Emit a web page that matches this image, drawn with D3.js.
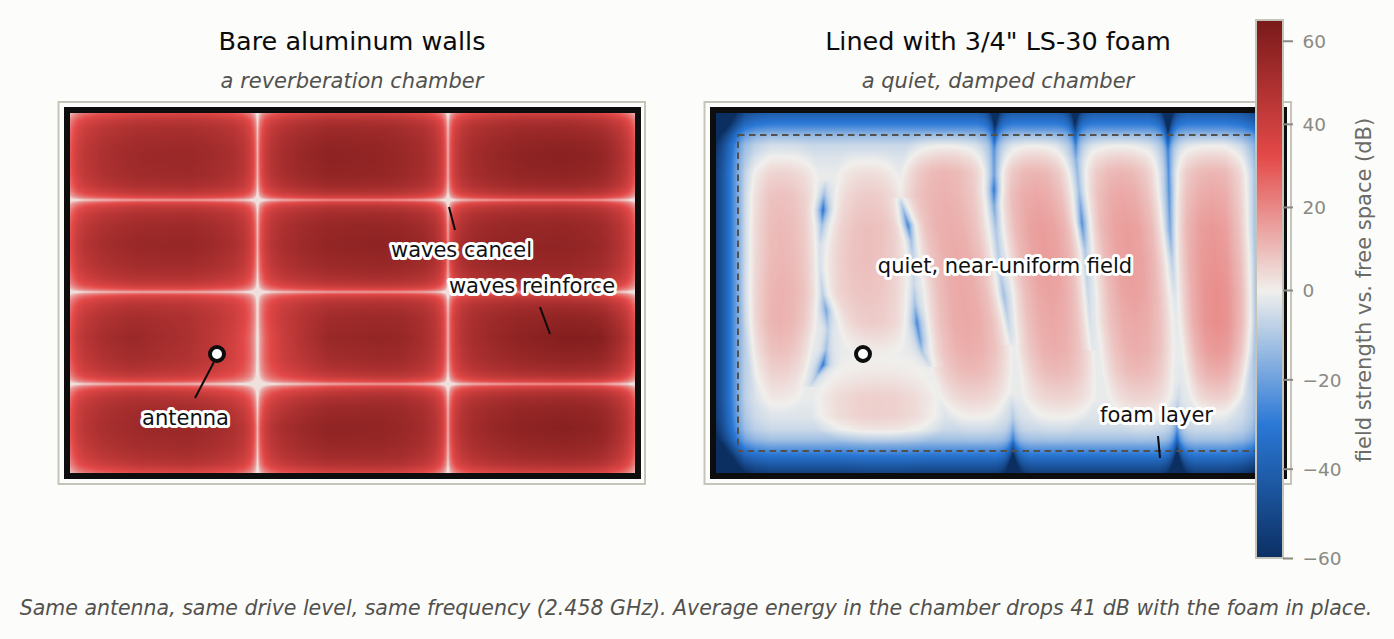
<!DOCTYPE html>
<html>
<head>
<meta charset="utf-8">
<script src="https://cdn.jsdelivr.net/npm/d3@7/dist/d3.min.js"></script>
<style>
html, body { margin: 0; padding: 0; background: #fcfcfa; overflow: hidden; }
text { font-family: "DejaVu Sans", sans-serif; }
.halo { font-size: 21px; fill: #111; stroke: #fff; stroke-width: 6px; stroke-linejoin: round; paint-order: stroke; }
</style>
</head>
<body>
<svg id="chart" width="1394" height="639"></svg>
<script>

// chamber size, mm
var chamberW = 565, chamberH = 360;
var antenna = [147, 241];

// colour bar
var cbDomain = [-60, 0, 65];
var cbTicks = [-60, -40, -20, 0, 20, 40, 60];
var heatStops = [-60, -30, 0, 32.5, 65];
var heatColors = ["#0c2f62", "#2a78d6", "#f0efec", "#e34948", "#7a1a1a"];

// bare chamber: level (dB) of the standing wave, read on a coarse grid
var bareX = [0, 60, 120, 187, 260, 330, 378, 460, 530, 565];
var bareY = [0, 42, 87, 130, 179, 225, 271, 315, 360];
var bareLevels = [
  [55, 57, 58, 57, 61, 61, 59, 61, 61, 57],
  [56, 58, 59, 58, 63, 61, 59, 63, 65, 59],
  [55, 57, 58, 57, 61, 61, 59, 61, 62, 57],
  [56, 57, 58, 55, 59, 61, 61, 59, 60, 55],
  [54, 55, 55, 53, 57, 59, 60, 60, 60, 55],
  [55, 57, 51, 40, 57, 59, 55, 61, 66, 59],
  [55, 56, 53, 47, 55, 59, 57, 59, 61, 57],
  [57, 58, 59, 57, 62, 61, 59, 63, 65, 59],
  [53, 55, 57, 55, 59, 60, 57, 59, 61, 55]
];
var nodesX = [187.5, 378];
var nodesY = [87, 179, 271];
// how the level falls towards a cancellation line and towards a wall
var nodeDist = [0, 1, 2, 3, 5, 8, 14, 25, 45, 70];
var nodeDrop = [-43, -34, -27, -23, -18, -13, -8, -4, -1.5, 0];
var wallDist = [0, 3, 8, 15, 30, 50, 70];
var wallDrop = [-23, -18, -12, -8, -4, -1.5, 0];
var bareFloor = 3;

// foam chamber: quiet lobes, one value per row of lobeRows
var lobeRows = [17, 37, 57, 82, 115, 147, 179, 210, 237, 260, 282, 302, 317, 332];
var lobeALeft  = [39, 36, 29, 27, 27, 27, 27, 29, 33, 36, 41, 49, 64, 64];
var lobeARight = [89, 94, 99, 102, 102, 104, 104, 99, 94, 90, 85, 77, 66, 66];
var lobeALevel = [0, 2, 6, 10, 11.5, 12, 13, 13, 10.5, 7, 3, 0, 0, 0];
var lobeBLeft  = [129, 127, 124, 119, 112, 108, 107, 122, 131, 140, 144, 144, 144, 144];
var lobeBRight = [164, 172, 179, 187, 194, 194, 194, 192, 187, 175, 169, 169, 169, 169];
var lobeBLevel = [0, 0.5, 4, 8, 10.5, 10.5, 9.5, 8, 2, 0, 0, 0, 0, 0];
var lobeCLeft  = [144, 144, 144, 144, 144, 144, 144, 144, 134, 112, 101, 97, 103, 130];
var lobeCRight = [184, 184, 184, 184, 184, 184, 184, 184, 194, 214, 221, 226, 226, 205];
var lobeCLevel = [0, 0, 0, 0, 0, 0, 0, 0, 0, 2.5, 7, 9, 8, 1.5];
var lobeDLeft  = [199, 192, 188, 184, 195, 204, 209, 211, 214, 217, 224, 233, 245, 254];
var lobeDRight = [259, 267, 270, 272, 274, 279, 284, 291, 294, 294, 292, 286, 276, 269];
var lobeDLevel = [0, 7, 12, 13, 14, 14.5, 15, 15, 14, 11.5, 7, 3.5, 1, 0];
var lobeELeft  = [294, 288, 284, 281, 286, 292, 297, 299, 302, 306, 308, 314, 325, 334];
var lobeERight = [339, 349, 354, 359, 366, 369, 371, 374, 376, 377, 378, 372, 358, 344];
var lobeELevel = [0, 7, 12, 15, 17, 17, 16, 15, 14, 11.5, 7, 3.5, 1, 0];
var lobeFLeft  = [379, 367, 368, 369, 372, 377, 381, 382, 386, 389, 393, 400, 412, 419];
var lobeFRight = [429, 441, 442, 444, 449, 452, 454, 457, 457, 456, 456, 450, 438, 429];
var lobeFLevel = [0, 7, 12, 15, 17, 17, 16.5, 15, 14, 11.5, 7, 3.5, 1, 0];
var lobeGLeft  = [469, 459, 458, 457, 457, 459, 462, 464, 468, 471, 475, 483, 494, 494];
var lobeGRight = [524, 534, 536, 536, 536, 538, 539, 539, 536, 532, 528, 518, 499, 499];
var lobeGLevel = [0, 7, 12, 15, 18, 19, 20, 20, 18, 14, 8, 2, 0, 0];
var lobeShapeT = [0, 0.2, 0.4, 0.7, 1];
var lobeShape  = [0, 0.38, 0.68, 0.93, 1];
var lobeSpread = 3;

// foam chamber: thin blue seams between the lobes
var seam1Y = [67, 82, 97, 112, 132, 157, 182, 197, 217, 237, 252, 262, 274];
var seam1X = [110, 108, 107, 106, 104, 104, 107, 110, 112, 110, 107, 101, 94];
var seam1Level = [-2, -12, -32, -12, -4, -4, -8, -18, -8, -12, -30, -12, -4];
var seam2Y = [85, 99, 112, 127, 147, 172, 192, 210, 227, 239, 254];
var seam2X = [184, 188, 192, 195, 197, 198, 199, 201, 204, 206, 214];
var seam2Level = [-3, -14, -26, -12, -6, -6, -12, -26, -20, -10, -3];
var seam3Y = [0, 12, 37, 62, 77, 92, 117, 157, 182, 207, 232];
var seam3X = [279, 279, 278, 278, 278, 278, 280, 284, 288, 292, 296];
var seam3Level = [-46, -36, -20, -20, -30, -18, -10, -8, -12, -7, -2];
var seam4Y = [0, 12, 47, 77, 110, 137, 177, 207, 237];
var seam4X = [359, 359, 360, 363, 366, 369, 372, 374, 377];
var seam4Level = [-42, -32, -14, -12, -24, -10, -6, -4, -2];
var seam5Y = [0, 12, 37, 77, 117, 147, 187, 237, 267, 297, 322, 342, 360];
var seam5X = [452, 452, 452, 453, 454, 456, 459, 462, 464, 461, 461, 461, 461];
var seam5Level = [-58, -46, -24, -24, -18, -8, -2, -1, -2, -8, -22, -40, -60];
var seam6Y = [282, 307, 327, 345, 360];
var seam6X = [296, 297, 297, 297, 297];
var seam6Level = [-2, -8, -18, -38, -58];
var seamDist = [0, 1, 2, 3, 5, 8, 12, 18];
var seamWeight = [1, 0.82, 0.64, 0.5, 0.3, 0.14, 0.05, 0];

// foam chamber: absorption by distance from the wall
var foamDist = [0, 12, 22, 32, 45, 60];
var foamTop = [-40, -27, -13, -5, -2, 0];
var foamSideDist = [0, 7, 14, 22, 29, 39, 55];
var foamSide = [-52, -42, -30, -16, -7, -2.5, 0];
var foamBottomDist = [0, 13, 23, 33, 43, 55, 75];
var foamBottom = [-52, -36, -23, -11, -5, -2, 0];
var foamFloor = -1;

var svg = d3.select("#chart");

var heat = d3.scaleLinear().domain(heatStops).range(heatColors).clamp(true);

function lookup(d, r) {
  return d3.scaleLinear().domain(d).range(r).clamp(true);
}

// paint a field to a canvas, one pixel per mm, and put it on the svg
function paintField(field, x, y) {
  var canvas = document.createElement("canvas");
  canvas.width = chamberW;
  canvas.height = chamberH;
  var ctx = canvas.getContext("2d");
  var img = ctx.createImageData(chamberW, chamberH);
  var k = 0;
  for (var j = 0; j < chamberH; j++) {
    var row = field.row(j + 0.5);
    for (var i = 0; i < chamberW; i++) {
      var c = d3.rgb(heat(row(i + 0.5)));
      img.data[k++] = c.r;
      img.data[k++] = c.g;
      img.data[k++] = c.b;
      img.data[k++] = 255;
    }
  }
  ctx.putImageData(img, 0, 0);
  svg.append("image")
    .attr("x", x(0))
    .attr("y", y(0))
    .attr("width", x(chamberW) - x(0))
    .attr("height", y(chamberH) - y(0))
    .attr("href", canvas.toDataURL());
}

function nearest(v, list) {
  return d3.min(list, function(n) { return Math.abs(v - n); });
}

var bareField = {
  row: function(v) {
    var nodeFall = lookup(nodeDist, nodeDrop);
    var wallFall = lookup(wallDist, wallDrop);
    var colIdx = lookup(bareX, d3.range(bareX.length));
    var r = lookup(bareY, d3.range(bareY.length))(v);
    var r0 = Math.min(Math.floor(r), bareY.length - 2);
    var fy = nodeFall(nearest(v, nodesY)) + wallFall(Math.min(v, chamberH - v));
    return function(u) {
      var c = colIdx(u);
      var c0 = Math.min(Math.floor(c), bareX.length - 2);
      var a = bareLevels[r0][c0] + (bareLevels[r0][c0 + 1] - bareLevels[r0][c0]) * (c - c0);
      var b = bareLevels[r0 + 1][c0] + (bareLevels[r0 + 1][c0 + 1] - bareLevels[r0 + 1][c0]) * (c - c0);
      var level = a + (b - a) * (r - r0);
      return Math.max(bareFloor, level + fy + nodeFall(nearest(u, nodesX)) + wallFall(Math.min(u, chamberW - u)));
    };
  }
};

var lobes = [
  [lobeALeft, lobeARight, lobeALevel],
  [lobeBLeft, lobeBRight, lobeBLevel],
  [lobeCLeft, lobeCRight, lobeCLevel],
  [lobeDLeft, lobeDRight, lobeDLevel],
  [lobeELeft, lobeERight, lobeELevel],
  [lobeFLeft, lobeFRight, lobeFLevel],
  [lobeGLeft, lobeGRight, lobeGLevel]
];
var seams = [
  [seam1Y, seam1X, seam1Level],
  [seam2Y, seam2X, seam2Level],
  [seam3Y, seam3X, seam3Level],
  [seam4Y, seam4X, seam4Level],
  [seam5Y, seam5X, seam5Level],
  [seam6Y, seam6X, seam6Level]
];

var foamField = {
  row: function(v) {
    var shape = lookup(lobeShapeT, lobeShape);
    var weight = lookup(seamDist, seamWeight);
    var side = lookup(foamSideDist, foamSide);
    var wallY = lookup(foamDist, foamTop)(v) + lookup(foamBottomDist, foamBottom)(chamberH - v);
    var rowLobes = lobes.map(function(l) {
      return {
        left: lookup(lobeRows, l[0])(v) - lobeSpread,
        right: lookup(lobeRows, l[1])(v) + lobeSpread,
        level: lookup(lobeRows, l[2])(v)
      };
    });
    var rowSeams = seams.filter(function(s) {
      return v >= s[0][0] && v <= s[0][s[0].length - 1];
    }).map(function(s) {
      return { x: lookup(s[0], s[1])(v), level: lookup(s[0], s[2])(v) };
    });
    return function(u) {
      var val = foamFloor;
      rowLobes.forEach(function(l) {
        if (u > l.left && u < l.right && l.level > 0) {
          var t = Math.min(u - l.left, l.right - u) / ((l.right - l.left) / 2);
          val = Math.max(val, foamFloor + l.level * shape(t));
        }
      });
      rowSeams.forEach(function(s) {
        var w = weight(Math.abs(u - s.x));
        if (w > 0 && s.level < val) val = val + (s.level - val) * w;
      });
      return val + wallY + side(Math.min(u, chamberW - u));
    };
  }
};

function drawPanel(conf) {
  var x = d3.scaleLinear().domain([0, chamberW]).range([conf.left, conf.left + chamberW]);
  var y = d3.scaleLinear().domain([0, chamberH]).range([113, 113 + chamberH]);

  svg.append("rect")
    .attr("x", x(0) - 11.5).attr("y", y(0) - 11)
    .attr("width", chamberW + 21.5).attr("height", chamberH + 22)
    .attr("fill", "none").attr("stroke", "#c4c5b8").attr("stroke-width", 2);

  paintField(conf.field, x, y);

  svg.append("rect")
    .attr("x", x(0) - 3).attr("y", y(0) - 3)
    .attr("width", chamberW + 6).attr("height", chamberH + 6)
    .attr("fill", "none").attr("stroke", "#0d0d0d").attr("stroke-width", 6);

  svg.append("text")
    .attr("x", conf.center).attr("y", 49.5)
    .attr("text-anchor", "middle")
    .style("font-size", "25.5px").style("fill", "#0b0b0b")
    .text(conf.title);
  svg.append("text")
    .attr("x", conf.center).attr("y", 88)
    .attr("text-anchor", "middle")
    .style("font-size", "21px").style("font-style", "italic").style("fill", "#52514e")
    .text(conf.subtitle);

  if (conf.foam) {
    svg.append("rect")
      .attr("x", x(22)).attr("y", y(22))
      .attr("width", x(chamberW - 22) - x(22)).attr("height", y(chamberH - 22) - y(22))
      .attr("fill", "none").attr("stroke", "#52514e").attr("stroke-width", 2)
      .attr("stroke-dasharray", "6.5,4.5");
  }

  conf.leaders.forEach(function(l) {
    svg.append("line")
      .attr("x1", l[0]).attr("y1", l[1]).attr("x2", l[2]).attr("y2", l[3])
      .attr("stroke", "#0b0b0b").attr("stroke-width", 2);
  });

  svg.append("circle")
    .attr("cx", x(antenna[0])).attr("cy", y(antenna[1])).attr("r", 7)
    .attr("fill", "#fff").attr("stroke", "#0d0d0d").attr("stroke-width", 4);

  conf.notes.forEach(function(n) {
    svg.append("text")
      .attr("class", "halo")
      .attr("x", n[1]).attr("y", n[2])
      .attr("text-anchor", "middle")
      .text(n[0]);
  });
}

drawPanel({
  left: 70, center: 352, field: bareField, foam: false,
  title: "Bare aluminum walls", subtitle: "a reverberation chamber",
  leaders: [[449, 207, 455, 230], [540, 307, 550, 334], [214, 362, 195, 398]],
  notes: [["waves cancel", 461.5, 256.5], ["waves reinforce", 532, 293], ["antenna", 185.5, 425]]
});

drawPanel({
  left: 716, center: 998, field: foamField, foam: true,
  title: "Lined with 3/4\" LS-30 foam", subtitle: "a quiet, damped chamber",
  leaders: [[1158, 436, 1160, 458]],
  notes: [["quiet, near-uniform field", 1005, 272.5], ["foam layer", 1156.5, 422]]
});

// colour bar
var cb = d3.scaleLinear().domain(cbDomain).range([558, 290, 20]);
var cbCells = d3.range(-60, 65, 0.2);
svg.append("g").attr("shape-rendering", "crispEdges").selectAll("rect")
  .data(cbCells)
  .join("rect")
  .attr("x", 1256)
  .attr("width", 27)
  .attr("y", function(d) { return cb(d + 0.2); })
  .attr("height", function(d) { return cb(d) - cb(d + 0.2) + 1; })
  .attr("fill", function(d) { return heat(d + 0.1); });
svg.append("rect")
  .attr("x", 1256).attr("y", 20).attr("width", 27).attr("height", 538)
  .attr("fill", "none").attr("stroke", "#c4c5b8").attr("stroke-width", 2);

var cbAxis = svg.append("g")
  .attr("transform", "translate(1283,0)")
  .call(d3.axisRight(cb).tickValues(cbTicks).tickSize(10).tickPadding(9.5));
cbAxis.select(".domain").remove();
cbAxis.selectAll("line").attr("stroke", "#8a8a82").attr("stroke-width", 2);
cbAxis.selectAll("text")
  .attr("dy", "0.36em")
  .style("font-size", "18.5px").style("font-family", "'DejaVu Sans'").style("fill", "#8a8a82");

svg.append("text")
  .attr("transform", "translate(1371,290) rotate(-90)")
  .attr("text-anchor", "middle")
  .style("font-size", "21px").style("fill", "#6a6a66")
  .text("field strength vs. free space (dB)");

svg.append("text")
  .attr("x", 696).attr("y", 615)
  .attr("text-anchor", "middle")
  .style("font-size", "20.5px").style("font-style", "italic").style("fill", "#52514e")
  .text("Same antenna, same drive level, same frequency (2.458 GHz). Average energy in the chamber drops 41 dB with the foam in place.");

</script>
</body>
</html>
